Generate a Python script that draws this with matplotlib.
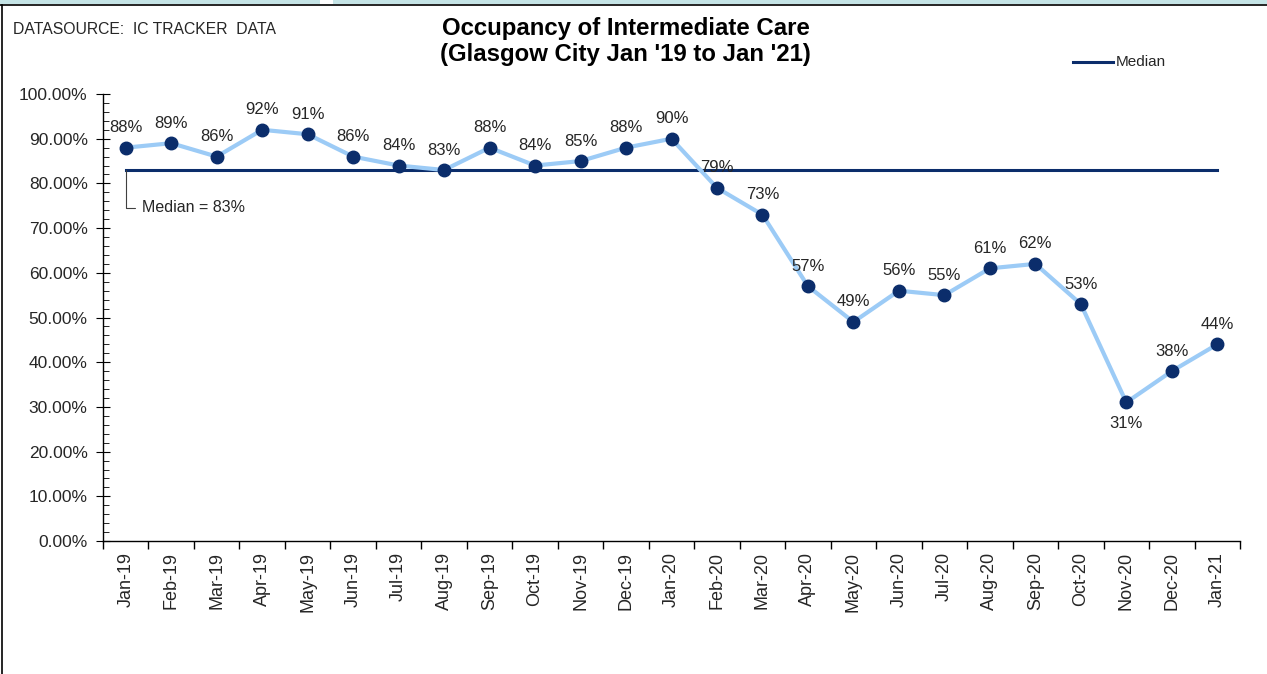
import matplotlib.pyplot as plt
from matplotlib.ticker import MultipleLocator, FixedLocator, PercentFormatter
from matplotlib.patches import Rectangle
from matplotlib.lines import Line2D

plt.rcParams['font.family'] = ['Liberation Sans', 'DejaVu Sans']

months = ["Jan-19", "Feb-19", "Mar-19", "Apr-19", "May-19", "Jun-19", "Jul-19",
          "Aug-19", "Sep-19", "Oct-19", "Nov-19", "Dec-19", "Jan-20", "Feb-20",
          "Mar-20", "Apr-20", "May-20", "Jun-20", "Jul-20", "Aug-20", "Sep-20",
          "Oct-20", "Nov-20", "Dec-20", "Jan-21"]
occupancy = [88, 89, 86, 92, 91, 86, 84, 83, 88, 84, 85, 88, 90, 79,
             73, 57, 49, 56, 55, 61, 62, 53, 31, 38, 44]
median_value = 83

TEXT = "#262626"
NAVY = "#0b2d6b"
LIGHT = "#9ccbf6"

fig = plt.figure(figsize=(12.67, 6.74), dpi=100)
ax = fig.add_axes([0.0813, 0.1973, 0.8974, 0.6632])

x = list(range(len(months)))
ax.plot(x, occupancy, color=LIGHT, lw=3, zorder=2)
ax.plot(x, occupancy, ls="none", marker="o", ms=9, color=NAVY, zorder=3)
ax.plot([x[0], x[-1]], [median_value] * 2, color=NAVY, lw=2.2, zorder=1)

for xi, v in zip(x, occupancy):
    if v == min(occupancy):
        ax.annotate(f"{v}%", (xi, v), xytext=(0, -10), textcoords="offset points",
                    ha="center", va="top", fontsize=12, color=TEXT)
    else:
        ax.annotate(f"{v}%", (xi, v), xytext=(0, 9), textcoords="offset points",
                    ha="center", va="bottom", fontsize=12, color=TEXT)

# median callout
ax.annotate(f"Median = {median_value}%", (x[0], median_value), xytext=(12, -27),
            textcoords="offset points", ha="left", va="center", fontsize=11.5, color=TEXT,
            arrowprops=dict(arrowstyle="-", color="#404040", lw=0.8,
                            connectionstyle="angle,angleA=0,angleB=90,rad=0",
                            shrinkA=3, shrinkB=0))

ax.set_xlim(-0.5, len(months) - 0.5)
ax.set_ylim(0, 100)
ax.set_xticks(x)
ax.set_xticklabels(months, rotation=90, fontsize=13, color=TEXT)
ax.tick_params(axis="x", which="major", length=0, pad=8)
ax.xaxis.set_minor_locator(FixedLocator([i - 0.5 for i in range(len(months) + 1)]))
ax.tick_params(axis="x", which="minor", length=6, width=1, direction="out")

ax.yaxis.set_major_locator(MultipleLocator(10))
ax.yaxis.set_minor_locator(MultipleLocator(2))
ax.yaxis.set_major_formatter(PercentFormatter(100, decimals=2))
ax.tick_params(axis="y", which="major", length=10, direction="inout", labelsize=12.5,
               labelcolor=TEXT, pad=6)
ax.tick_params(axis="y", which="minor", length=4, direction="in")

for s in ["top", "right"]:
    ax.spines[s].set_visible(False)
for s in ["left", "bottom"]:
    ax.spines[s].set_linewidth(1)

fig.text(0.494, 1 - 28 / 674, "Occupancy of Intermediate Care", ha="center", va="center",
         fontsize=17.3, fontweight="bold", color="black")
fig.text(0.494, 1 - 55 / 674, "(Glasgow City Jan '19 to Jan '21)", ha="center", va="center",
         fontsize=17.3, fontweight="bold", color="black")
fig.text(0.010, 1 - 30 / 674, "DATASOURCE:  IC TRACKER  DATA", ha="left", va="center",
         fontsize=11.3, color=TEXT)

# legend
fig.add_artist(Line2D([1073 / 1267, 1113 / 1267], [1 - 62 / 674] * 2, color=NAVY, lw=2.2))
fig.text(1116 / 1267, 1 - 62 / 674, "Median", ha="left", va="center", fontsize=11, color=TEXT)

# frame bits at top/left edge
fig.add_artist(Rectangle((0, 1 - 4 / 674), 320 / 1267, 4 / 674, transform=fig.transFigure,
                         color="#c5e4e6", lw=0))
fig.add_artist(Rectangle((333 / 1267, 1 - 4 / 674), 1, 4 / 674, transform=fig.transFigure,
                         color="#c5e4e6", lw=0))
fig.add_artist(Line2D([0, 1], [1 - 4.5 / 674] * 2, color="black", lw=1.2))
fig.add_artist(Line2D([1.5 / 1267] * 2, [0, 1 - 4.5 / 674], color="black", lw=1.2))

fig.savefig("out.png", dpi=100)
